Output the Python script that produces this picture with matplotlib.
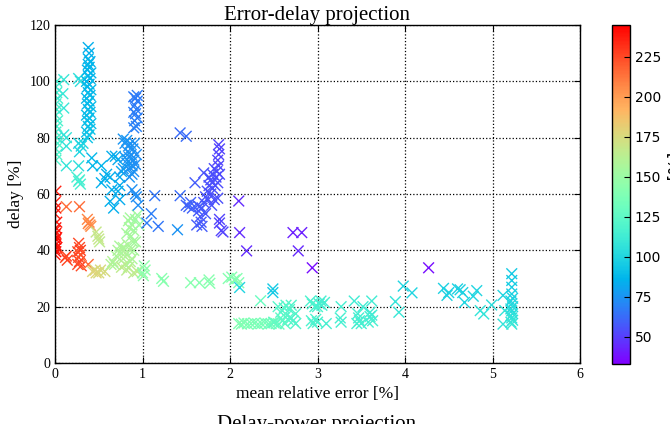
import matplotlib
matplotlib.use("Agg")
import matplotlib.pyplot as plt
import numpy as np

plt.rcParams.update({
    "font.family": "serif",
    "font.serif": ["Liberation Serif", "DejaVu Serif"],
    "xtick.direction": "in", "ytick.direction": "in",
    "xtick.top": True, "ytick.right": True,
    "xtick.major.size": 4, "ytick.major.size": 4,
})

# --- red / orange / yellow region, low error -------------------------------
red_err = [0.0, 0.01, 0.0, 0.02, 0.01, 0.0, 0.01, 0.02, 0.0, 0.01, 0.0, 0.01,
           0.02, 0.0, 0.01, 0.0, 0.01]
red_delay = [38.5, 39.5, 40.5, 41, 42, 43, 44, 44.5, 45.5, 46, 47, 48,
             50, 53, 55, 57, 61]
red_power = [240, 241, 240, 239, 241, 240, 242, 240, 241, 240, 239, 240,
             238, 238, 237, 236, 236]

orange_err = [0.13, 0.28, 0.12, 0.14, 0.13, 0.27, 0.28, 0.26, 0.29, 0.27,
              0.28, 0.26, 0.30, 0.29, 0.38, 0.37, 0.39, 0.40, 0.41, 0.38]
orange_delay = [55.5, 55.5, 37.5, 36.5, 38, 42.5, 41, 39.5, 40, 37.5,
                36, 35, 34.5, 38.5, 35, 51, 50, 49, 48.5, 49.5]
orange_power = [215, 215, 226, 226, 226, 225, 225, 225, 228, 225,
                228, 225, 225, 222, 215, 208, 205, 205, 205, 208]

yellow_err = [0.47, 0.50, 0.51, 0.49, 0.43, 0.46, 0.50, 0.52, 0.57, 0.47]
yellow_delay = [46.5, 44, 43, 45, 32.5, 33, 32, 33, 32.5, 32]
yellow_power = [168, 168, 165, 168, 178, 178, 175, 175, 175, 178]

lgreen_err = [0.64, 0.66, 0.68, 0.70, 0.72, 0.74, 0.76, 0.78, 0.80, 0.82,
              0.84, 0.86, 0.88, 0.90, 0.89, 0.87, 0.85, 0.84, 0.86, 0.88,
              0.90, 0.92, 0.94, 0.96, 0.92, 0.83, 0.80, 0.78, 0.90, 0.94,
              0.76, 0.86, 0.82]
lgreen_delay = [35, 36, 35, 38, 40, 41.5, 39, 37, 35, 33,
                34, 36, 37, 40, 43, 45, 48, 50.5, 51.5, 49,
                47, 51, 52.5, 49, 43, 42, 39, 41, 32, 32.5,
                34, 40, 46]
lgreen_power = [160, 160, 158, 158, 158, 157, 157, 160, 162, 165,
                162, 160, 158, 155, 155, 155, 155, 155, 155, 155,
                155, 152, 152, 152, 155, 158, 160, 158, 165, 165,
                165, 158, 155]

# --- green / teal / cyan band, delay below ~35 % ---------------------------
green_err = [1.00, 1.02, 1.03, 1.01, 1.22, 1.24, 1.55, 1.65, 1.76, 1.77,
             1.98, 2.02, 2.05, 2.08, 2.10]
green_delay = [32, 34.5, 33, 31, 30, 29, 28.5, 28.5, 29.5, 28.3,
               30, 30.5, 29.5, 30, 28.5]
green_power = [145, 145, 145, 145, 143, 143, 143, 143, 143, 143,
               142, 142, 142, 142, 140]

floor_err = [2.10, 2.13, 2.16, 2.20, 2.24, 2.28, 2.32, 2.36, 2.40, 2.44,
             2.47, 2.50, 2.53, 2.56, 2.35]
floor_delay = [14, 13.8, 14.2, 13.9, 14, 14.1, 13.8, 14, 14.2, 13.9,
               14, 14.3, 14, 13.8, 22.1]
floor_power = [140, 140, 139, 139, 138, 138, 137, 136, 135, 134,
               133, 132, 131, 130, 130]

teal_err = [2.55, 2.58, 2.62, 2.65, 2.68, 2.70, 2.72, 2.75, 2.60, 2.63,
            2.66, 2.58, 2.70, 2.75, 2.50, 2.64,
            2.92, 2.94, 2.97, 3.02, 3.05, 3.08, 2.93, 2.95, 2.98, 3.00,
            3.10, 3.00, 3.04]
teal_delay = [20, 18, 19.5, 17, 19, 16, 15, 14, 15, 14,
              15.5, 16, 20.5, 17.5, 14.5, 20.5,
              22, 21, 20, 21, 20.5, 21.5, 15, 14, 15.5, 14.5,
              14, 20, 22]
teal_power = [122, 122, 122, 122, 120, 120, 120, 120, 125, 125,
              122, 125, 120, 120, 128, 122,
              118, 118, 118, 115, 115, 115, 118, 118, 118, 118,
              115, 118, 115]

cyan_err = [3.27, 3.26, 3.27, 3.42, 3.46, 3.45, 3.48, 3.50, 3.47, 3.52,
            3.62, 3.60, 3.60, 3.58, 3.63, 3.62,
            3.89, 3.93, 3.98, 4.08, 4.44, 4.48, 4.50, 4.60, 4.63, 4.66,
            4.68, 4.78, 4.82, 4.86, 4.90, 4.99, 5.12, 5.12, 5.14,
            2.49, 2.49, 2.11]
cyan_delay = [20, 16, 14.5, 22, 17.5, 14, 15, 14, 16, 20,
              22, 18, 16.5, 14.5, 15, 17,
              21.8, 18, 27.3, 24.9, 26.5, 24, 25, 26.3, 26, 25,
              21.5, 23.7, 25.7, 18.6, 17.4, 20.6, 24, 13.8, 18.6,
              26.3, 25, 26.8]
cyan_power = [115, 115, 115, 113, 115, 115, 115, 115, 115, 113,
              113, 113, 115, 115, 115, 113,
              108, 110, 100, 100, 98, 98, 98, 98, 98, 98,
              100, 100, 100, 108, 108, 105, 100, 108, 108,
              95, 95, 100]

col52_err = [5.22, 5.22, 5.22, 5.22, 5.23, 5.21, 5.22, 5.23, 5.21, 5.22,
             5.23, 5.21, 5.22, 5.23, 5.21, 5.22]
col52_delay = [31.7, 29.3, 26.9, 24.5, 23, 22, 21, 20, 19.2, 18.5,
               17.5, 16.8, 16, 15.2, 14.5, 13.8]
col52_power = [95, 96, 97, 98, 99, 100, 101, 102, 103, 104,
               105, 106, 107, 108, 109, 110]

# --- cyan / blue / purple region, delay above ~45 % ------------------------
lcyan_err = [0.01, 0.02, 0.01, 0.03, 0.02, 0.01, 0.02, 0.03, 0.01, 0.02,
             0.01, 0.03, 0.02, 0.01, 0.02,
             0.10, 0.09, 0.10, 0.10, 0.13, 0.13, 0.13,
             0.27, 0.29, 0.27, 0.30, 0.28, 0.32, 0.27, 0.25, 0.27, 0.29, 0.28]
lcyan_delay = [72, 74, 76, 78, 80, 82, 84, 86, 88, 90,
               92, 94, 96, 98, 100,
               100.6, 95.6, 90.5, 81, 80, 77, 70,
               101, 100, 78, 77, 75, 78, 70, 66, 64.5, 63.5, 65]
lcyan_power = [120, 120, 119, 119, 118, 118, 118, 118, 117, 117,
               117, 116, 116, 116, 115,
               110, 110, 110, 108, 108, 108, 108,
               105, 105, 100, 100, 100, 100, 105, 115, 115, 115, 115]

azure_err = [0.37, 0.39, 0.36, 0.40, 0.38, 0.41, 0.37, 0.39, 0.36, 0.40,
             0.38, 0.41, 0.37, 0.39, 0.36, 0.40, 0.38, 0.41, 0.37, 0.39,
             0.36, 0.40, 0.38, 0.41, 0.37, 0.39, 0.38, 0.40, 0.38, 0.39,
             0.38]
azure_delay = [80, 81, 82, 83, 84, 85, 86, 87, 88, 89,
               90, 91, 92, 93, 94, 95, 96, 97, 98, 99,
               100, 101, 102, 103, 104, 105, 106, 107, 108, 110,
               112]
azure_power = [92, 92, 91, 91, 91, 90, 90, 90, 90, 89,
               89, 89, 89, 88, 88, 88, 88, 88, 87, 87,
               87, 87, 87, 86, 86, 86, 86, 86, 86, 85,
               85]

sky_err = [0.42, 0.43, 0.53, 0.59, 0.53, 0.63, 0.65, 0.63, 0.67, 0.72,
           0.74, 0.74, 0.65, 0.69, 0.72, 0.76, 0.74, 0.57]
sky_delay = [72.8, 70, 70, 67, 64, 66, 61.5, 57.4, 55, 61,
             58, 63, 73.4, 73.4, 72.2, 68, 66, 65.5]
sky_power = [88, 88, 86, 85, 85, 85, 84, 85, 85, 84,
             83, 83, 84, 84, 83, 82, 82, 85]

blue_err = [0.78, 0.80, 0.82, 0.84, 0.86, 0.83, 0.85, 0.87, 0.89, 0.90,
            0.88, 0.86, 0.84, 0.90, 0.92, 0.93, 0.88, 0.80, 0.82, 0.91,
            0.85, 0.78, 0.88, 0.93, 0.95, 0.92]
blue_delay = [79.5, 78, 79, 77, 78, 75, 73, 74, 76, 72,
              70, 71, 69, 68, 70.5, 74, 67, 73, 71, 78,
              66, 69, 61.5, 59, 56, 60]
blue_power = [76, 76, 76, 75, 75, 75, 75, 74, 74, 74,
              74, 75, 75, 74, 73, 73, 74, 76, 76, 74,
              75, 77, 74, 73, 73, 73]

col09_err = [0.90, 0.93, 0.91, 0.94, 0.92, 0.90, 0.93, 0.91, 0.94, 0.92,
             0.90, 0.94]
col09_delay = [83.5, 84, 86, 87, 88.5, 89, 90, 91.5, 93, 94,
               94.5, 95]
col09_power = [69, 69, 69, 68, 68, 68, 68, 67, 67, 67,
               67, 67]

mid_err = [1.05, 1.10, 1.18, 1.14, 1.43, 1.50, 1.43, 1.40]
mid_delay = [49.7, 53, 48.5, 59.4, 81.7, 80.5, 59.4, 47.3]
mid_power = [68, 68, 66, 66, 62, 62, 62, 75]

violet_err = [1.50, 1.53, 1.57, 1.60, 1.63, 1.64, 1.66, 1.67, 1.68, 1.70,
              1.72, 1.74, 1.76, 1.78, 1.80, 1.82, 1.84, 1.86, 1.78, 1.80,
              1.75, 1.83, 1.85, 1.88, 1.87, 1.86, 1.87, 1.88, 1.87, 1.82,
              1.79, 1.86, 1.88, 1.90, 1.88, 1.72, 1.68, 1.62, 1.76, 1.80,
              1.70, 1.65, 1.55, 1.92]
violet_delay = [56, 55.5, 55, 64, 56, 54, 52, 50, 55, 57,
                59, 61, 63, 65, 67, 69, 66, 64, 60, 62,
                58, 63, 68, 67, 70, 72, 74, 76, 77.5, 58,
                56, 58.5, 49.7, 47, 51, 53, 48.5, 49, 66, 64,
                67.5, 55.5, 57, 46.5]
violet_power = [60, 60, 60, 58, 58, 58, 57, 57, 57, 56,
                56, 56, 55, 55, 55, 54, 54, 54, 55, 55,
                56, 55, 54, 53, 53, 52, 52, 52, 52, 55,
                56, 55, 52, 52, 52, 57, 58, 58, 55, 55,
                56, 58, 60, 52]

purple_err = [2.10, 2.11, 2.19, 2.72, 2.82, 2.78, 2.94, 4.27]
purple_delay = [57.5, 46.3, 39.8, 46.3, 46.3, 39.8, 33.8, 33.8]
purple_power = [45, 45, 45, 42, 42, 44, 37, 37]

groups = [
    (red_err, red_delay, red_power),
    (orange_err, orange_delay, orange_power),
    (yellow_err, yellow_delay, yellow_power),
    (lgreen_err, lgreen_delay, lgreen_power),
    (green_err, green_delay, green_power),
    (floor_err, floor_delay, floor_power),
    (teal_err, teal_delay, teal_power),
    (cyan_err, cyan_delay, cyan_power),
    (col52_err, col52_delay, col52_power),
    (lcyan_err, lcyan_delay, lcyan_power),
    (azure_err, azure_delay, azure_power),
    (sky_err, sky_delay, sky_power),
    (blue_err, blue_delay, blue_power),
    (col09_err, col09_delay, col09_power),
    (mid_err, mid_delay, mid_power),
    (violet_err, violet_delay, violet_power),
    (purple_err, purple_delay, purple_power),
]
err = np.concatenate([g[0] for g in groups])
delay = np.concatenate([g[1] for g in groups])
power = np.concatenate([g[2] for g in groups])

fig = plt.figure(figsize=(6.7, 4.24), dpi=100)
ax = fig.add_axes([55 / 670, 61 / 424, 525 / 670, 338 / 424])
cax = fig.add_axes([612 / 670, 60 / 424, 18 / 670, 339 / 424])

sc = ax.scatter(err, delay, c=power, cmap="rainbow", vmin=33, vmax=245,
                marker="x", s=60, linewidths=1.0)
ax.set_xlim(0, 6)
ax.set_ylim(0, 120)
ax.set_xticks(range(0, 7))
ax.set_yticks(range(0, 121, 20))
ax.tick_params(labelsize=10)
ax.grid(True, color="k", linestyle=":", linewidth=0.9)
ax.set_axisbelow(True)
for sp in ax.spines.values():
    sp.set_linewidth(1.0)
ax.set_xlabel("mean relative error [%]", fontsize=12.5)
ax.set_ylabel("delay [%]", fontsize=12.5)
ax.set_title("Error-delay projection", fontsize=15, pad=3)

cb = fig.colorbar(sc, cax=cax)
cb.set_ticks([50, 75, 100, 125, 150, 175, 200, 225])
cb.ax.tick_params(direction="in", length=4, labelsize=10)
for lab in cb.ax.get_yticklabels():
    lab.set_family("DejaVu Sans")
cb.set_label("power [%]", family="DejaVu Sans", fontsize=12, labelpad=5)
cb.outline.set_linewidth(1.0)

# top of the next panel's title, clipped by the figure edge as in the source
fig.text(317 / 670, 9 / 424, "Delay-power projection", ha="center",
         va="top", fontsize=15)

fig.savefig("out.png", dpi=100)
